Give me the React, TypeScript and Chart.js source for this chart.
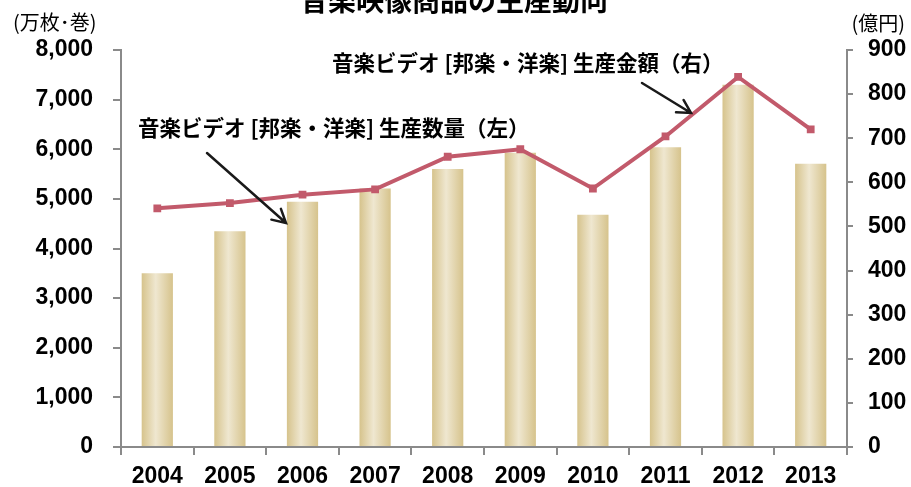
import React, { useEffect, useRef } from "react";
import { Chart, registerables } from "chart.js";
Chart.register(...registerables);

// ---- data ----
const years = ["2004", "2005", "2006", "2007", "2008", "2009", "2010", "2011", "2012", "2013"];
const quantity = [3500, 4350, 4940, 5210, 5600, 5930, 4680, 6040, 7300, 5710]; // 万枚・巻 (left)
const amount = [541, 553, 572, 584, 658, 675, 586, 704, 839, 720]; // 億円 (right)

const titleText = "音楽映像商品の生産動向";
const leftUnit = "(万枚･巻)";
const rightUnit = "(億円)";
const amountLabel = "音楽ビデオ [邦楽・洋楽] 生産金額（右）";
const quantityLabel = "音楽ビデオ [邦楽・洋楽] 生産数量（左）";

const W = 911;
const H = 487;
const CJK = '"Noto Sans CJK JP", "Noto Sans", sans-serif';
const AXIS_COLOR = "#8a8a8a";
const LINE_COLOR = "#C25A6B";

export default function App() {
  const ref = useRef<HTMLCanvasElement>(null);

  useEffect(() => {
    if (!ref.current) return;

    const drawArrow = (ctx: CanvasRenderingContext2D, x1: number, y1: number, x2: number, y2: number) => {
      const ang = Math.atan2(y2 - y1, x2 - x1);
      const len = 15;
      const spread = 0.5;
      ctx.beginPath();
      ctx.moveTo(x1, y1);
      ctx.lineTo(x2, y2);
      ctx.moveTo(x2 - len * Math.cos(ang - spread), y2 - len * Math.sin(ang - spread));
      ctx.lineTo(x2, y2);
      ctx.lineTo(x2 - len * Math.cos(ang + spread), y2 - len * Math.sin(ang + spread));
      ctx.stroke();
    };

    const overlay = {
      id: "overlay",
      afterDraw(chart: any) {
        const ctx: CanvasRenderingContext2D = chart.ctx;
        ctx.save();
        ctx.fillStyle = "#000";
        // title (partly cut at top)
        ctx.font = `bold 28px ${CJK}`;
        ctx.textAlign = "center";
        ctx.textBaseline = "middle";
        ctx.fillText(titleText, 454, 0);
        // units
        ctx.font = `20px ${CJK}`;
        ctx.textAlign = "left";
        ctx.fillText(leftUnit, 13, 22);
        ctx.textAlign = "right";
        ctx.fillText(rightUnit, 905, 23);
        // annotations
        ctx.font = `bold 21.5px ${CJK}`;
        ctx.textAlign = "left";
        ctx.fillText(amountLabel, 332, 63);
        ctx.fillText(quantityLabel, 138, 128);
        // arrows
        ctx.strokeStyle = "#1a1a1a";
        ctx.lineWidth = 2.5;
        ctx.lineCap = "round";
        drawArrow(ctx, 642, 83, 691, 113);
        drawArrow(ctx, 207, 153, 286, 223);
        ctx.restore();
      },
    };

    const barFill = (c: any) => {
      const chart = c.chart;
      const xs = chart.scales?.x;
      if (!xs || !chart.chartArea || c.dataIndex === undefined) return "#E3D4A8";
      const cx = xs.getPixelForValue(c.dataIndex);
      const hw = (xs.width / years.length) * 0.43 / 2;
      const g = chart.ctx.createLinearGradient(cx - hw, 0, cx + hw, 0);
      g.addColorStop(0, "#D6C38C");
      g.addColorStop(0.45, "#EFE7D0");
      g.addColorStop(1, "#D6C38C");
      return g;
    };

    const tickFont = { family: '"Liberation Sans", Arial, sans-serif', size: 23, weight: "bold" as const };

    const chart = new Chart(ref.current, {
      type: "bar",
      data: {
        labels: years,
        datasets: [
          {
            type: "line",
            data: amount,
            yAxisID: "y1",
            borderColor: LINE_COLOR,
            borderWidth: 4,
            pointStyle: "rect",
            pointRadius: 5.5,
            pointBackgroundColor: LINE_COLOR,
            pointBorderWidth: 0,
            tension: 0,
            order: 0,
          } as any,
          {
            type: "bar",
            data: quantity,
            yAxisID: "y",
            backgroundColor: barFill,
            borderWidth: 0,
            barPercentage: 0.43,
            categoryPercentage: 1,
            order: 1,
          } as any,
        ],
      },
      options: {
        animation: false,
        responsive: false,
        devicePixelRatio: 1,
        layout: { padding: { top: 50, left: 0, right: 0, bottom: 0 } },
        plugins: {
          legend: { display: false },
          title: { display: false },
          tooltip: { enabled: false },
        },
        scales: {
          x: {
            grid: { offset: true, drawOnChartArea: false, drawTicks: true, tickLength: 8, color: AXIS_COLOR, lineWidth: 2 },
            border: { display: true, color: AXIS_COLOR, width: 2 },
            ticks: { color: "#000", font: tickFont, padding: 8, maxRotation: 0, autoSkip: false },
            afterFit: (s: any) => { s.height = 40; },
          },
          y: {
            position: "left",
            min: 0,
            max: 8000,
            ticks: {
              stepSize: 1000,
              color: "#000",
              font: tickFont,
              padding: 20,
              callback: (v: any) => Number(v).toLocaleString("en-US"),
            },
            grid: { drawOnChartArea: false, drawTicks: true, tickLength: 8, color: AXIS_COLOR, lineWidth: 2 },
            border: { display: true, color: AXIS_COLOR, width: 2 },
            afterFit: (s: any) => { s.width = 121; },
          },
          y1: {
            position: "right",
            min: 0,
            max: 900,
            ticks: { stepSize: 100, color: "#000", font: tickFont, padding: 15 },
            grid: { drawOnChartArea: false, drawTicks: true, tickLength: 6, color: AXIS_COLOR, lineWidth: 2 },
            border: { display: true, color: AXIS_COLOR, width: 2 },
            afterFit: (s: any) => { s.width = 64; },
          },
        },
      },
      plugins: [overlay],
    });

    return () => chart.destroy();
  }, []);

  return (
    <div style={{ position: "fixed", left: 0, top: 0, width: W, height: H, background: "#fff" }}>
      <canvas ref={ref} width={W} height={H} style={{ display: "block", width: W, height: H }} />
    </div>
  );
}
